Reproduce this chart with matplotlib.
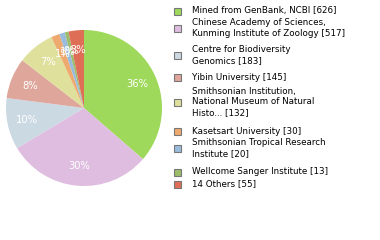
import math
import matplotlib
matplotlib.use('Agg')
import matplotlib.pyplot as plt
from matplotlib.patches import Rectangle

labels = ['Mined from GenBank, NCBI [626]',
          'Chinese Academy of Sciences,\nKunming Institute of Zoology [517]',
          'Centre for Biodiversity\nGenomics [183]',
          'Yibin University [145]',
          'Smithsonian Institution,\nNational Museum of Natural\nHisto... [132]',
          'Kasetsart University [30]',
          'Smithsonian Tropical Research\nInstitute [20]',
          'Wellcome Sanger Institute [13]',
          '14 Others [55]']
counts = [626, 517, 183, 145, 132, 30, 20, 13, 55]
colors = ['#9fd95b', '#dfbde0', '#cbd9e3', '#dfa69c', '#dfe09c',
          '#eeaa6e', '#9bbbdd', '#9bbc6a', '#de6e55']

# legend square centres, pixels from top
legend_y = [11, 28, 55, 77, 102, 131, 148, 172, 184]

W, H = 380, 240
fig = plt.figure(figsize=(W / 100, H / 100), dpi=100)

cx, cy, r = 84, 108, 78
ax = fig.add_axes([(cx - r) / W, (H - cy - r) / H, 2 * r / W, 2 * r / H])
wedges, texts, autotexts = ax.pie(
    counts, colors=colors, startangle=90, counterclock=False,
    autopct=lambda p: '%d%%' % math.floor(p), pctdistance=0.75,
    textprops=dict(color='white', fontsize=7.2))
ax.set_xlim(-1, 1)
ax.set_ylim(-1, 1)
ax.set_aspect('equal')

for lab, col, y in zip(labels, colors, legend_y):
    fig.patches.append(Rectangle((174 / W, (H - y - 4) / H), 7 / W, 7 / H,
                                 transform=fig.transFigure, facecolor=col,
                                 edgecolor='#777777', linewidth=0.8))
    fig.text(192 / W, (H - y) / H, lab, fontsize=6.35, va='center', ha='left',
             color='black', linespacing=1.2)

fig.savefig('out.png', dpi=100)
